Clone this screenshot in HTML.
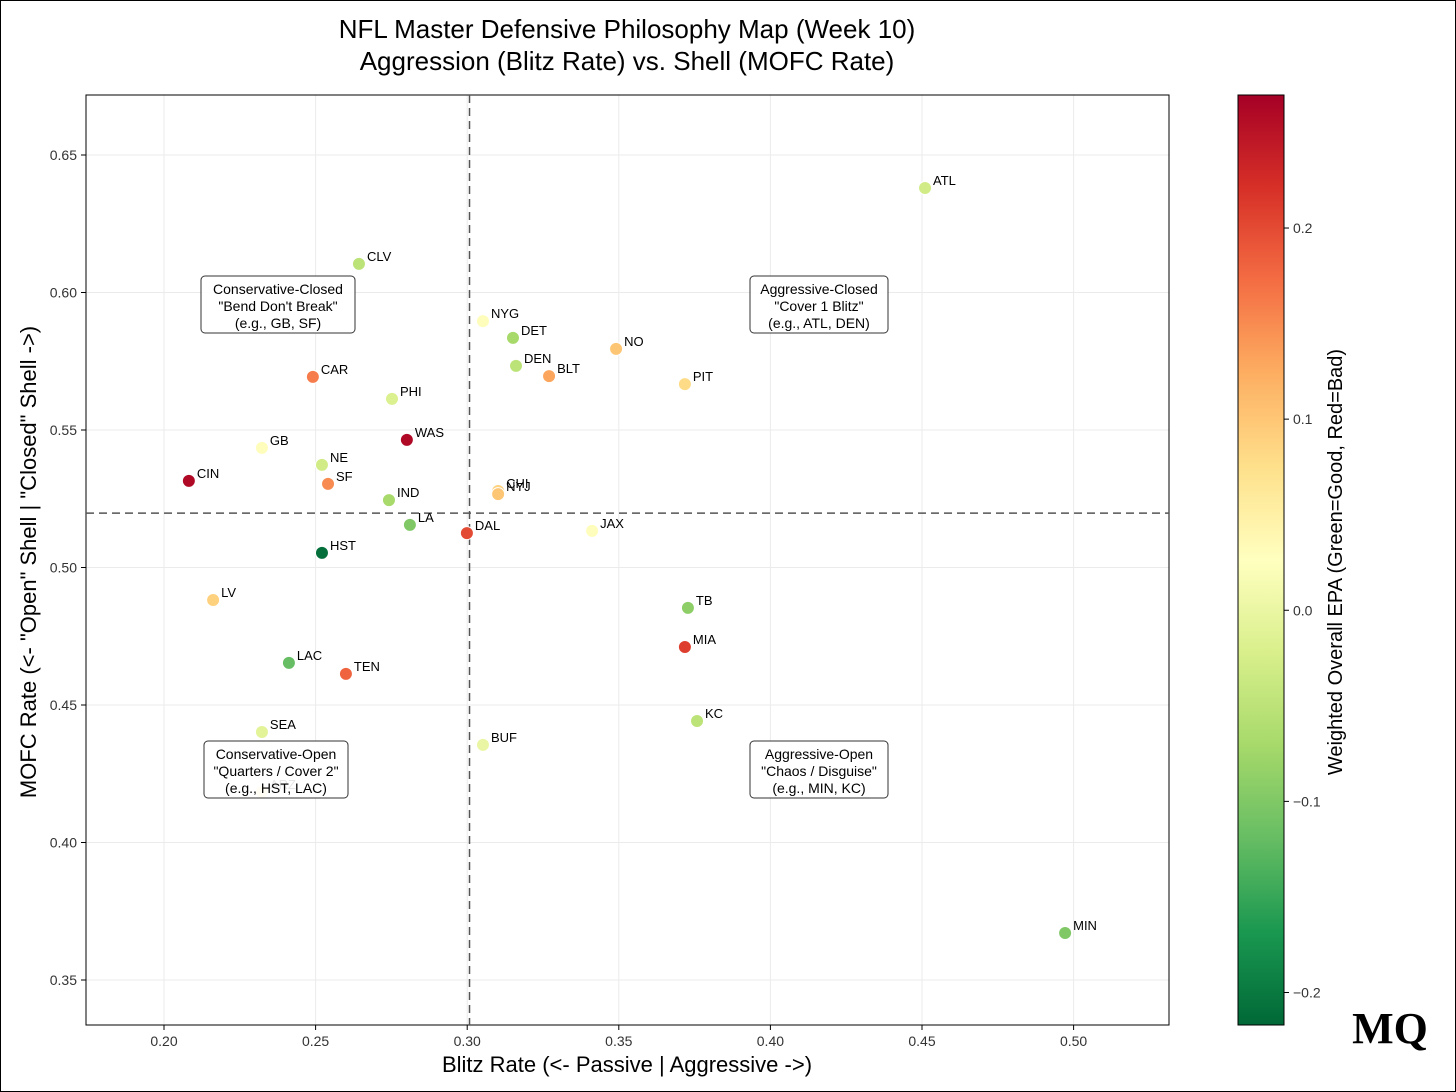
<!DOCTYPE html>
<html><head><meta charset="utf-8"><style>
body{margin:0;background:#fff;}
svg{display:block;font-family:"Liberation Sans",sans-serif;}
</style></head><body>
<svg id="chart" width="1456" height="1092" viewBox="0 0 1456 1092">
<rect x="0.5" y="0.5" width="1455" height="1091" fill="#fff" stroke="#000"/>
<text x="627" y="38" font-size="26" text-anchor="middle">NFL Master Defensive Philosophy Map (Week 10)</text>
<text x="627" y="70" font-size="26" text-anchor="middle">Aggression (Blitz Rate) vs. Shell (MOFC Rate)</text>
<g id="grid"></g><g id="axes"></g><g id="marks"></g><g id="labels"></g><g id="notes"></g><g id="cbar"></g>
<text x="627" y="1072" font-size="22" text-anchor="middle">Blitz Rate (&lt;- Passive | Aggressive -&gt;)</text>
<text transform="translate(36,562) rotate(-90)" font-size="22" text-anchor="middle">MOFC Rate (&lt;- "Open" Shell | "Closed" Shell -&gt;)</text>
<text transform="translate(1342,562) rotate(-90)" font-size="20" text-anchor="middle">Weighted Overall EPA (Green=Good, Red=Bad)</text>
<text x="1390" y="1043" font-size="44" font-weight="bold" font-family="Liberation Serif,serif" text-anchor="middle">MQ</text>
</svg>
<script>
const teams=["ATL","CLV","NYG","DET","NO","DEN","BLT","CAR","PIT","PHI","WAS","GB","NE","CIN","SF","CHI","NYJ","IND","LA","DAL","JAX","HST","LV","TB","MIA","LAC","TEN","KC","SEA","BUF","ARZ","MIN"];
const blitz=[0.451,0.2643,0.3052,0.3151,0.3491,0.3161,0.327,0.2491,0.3718,0.2752,0.2801,0.2323,0.2521,0.2082,0.2541,0.3102,0.3102,0.2742,0.2811,0.2999,0.3412,0.2521,0.2162,0.3728,0.3718,0.2412,0.26,0.3758,0.2323,0.3052,0.2323,0.4972];
const mofc=[0.638,0.6104,0.5896,0.5835,0.5795,0.5733,0.5696,0.5693,0.5667,0.5613,0.5464,0.5435,0.5373,0.5315,0.5304,0.5278,0.5267,0.5245,0.5155,0.5125,0.5133,0.5053,0.4882,0.4853,0.4711,0.4653,0.4613,0.4442,0.4402,0.4355,0.4184,0.3671];
const epa=[-0.03,-0.05,0.03,-0.07,0.1,-0.05,0.13,0.16,0.08,-0.02,0.26,0.03,-0.03,0.26,0.15,0.09,0.1,-0.07,-0.1,0.2,0.03,-0.21,0.09,-0.09,0.21,-0.12,0.18,-0.05,-0.01,0.0,0.07,-0.1];
const xTicks=[0.20,0.25,0.30,0.35,0.40,0.45,0.50];
const yTicks=[0.35,0.40,0.45,0.50,0.55,0.60,0.65];
const cTicks=[-0.2,-0.1,0.0,0.1,0.2];
const cMin=-0.217,cMax=0.2696;
const L=86,R=1169,T=95,B=1025;
const X=v=>164+(v-0.2)*3032, Y=v=>155+(0.65-v)*2750;
const C=v=>T+(cMax-v)/(cMax-cMin)*(B-T);
const ns="http://www.w3.org/2000/svg";
function mk(p,t,a){const e=document.createElementNS(ns,t);for(const k in a)e.setAttribute(k,a[k]);p.appendChild(e);return e;}
const stops=[[0,[0,104,55]],[0.1,[26,152,80]],[0.2,[102,189,99]],[0.3,[166,217,106]],[0.4,[217,239,139]],[0.5,[255,255,191]],[0.6,[254,224,139]],[0.7,[253,174,97]],[0.8,[244,109,67]],[0.9,[215,48,39]],[1,[165,0,38]]];
function cmap(v){let t=(v-cMin)/(cMax-cMin);t=Math.max(0,Math.min(1,t));let i=Math.min(9,Math.floor(t*10));const f=t*10-i;const a=stops[i][1],b=stops[i+1][1];return`rgb(${a.map((c,k)=>Math.round(c+(b[k]-c)*f)).join(",")})`;}
const g=document.getElementById("grid"),ax=document.getElementById("axes"),mg=document.getElementById("marks"),lg=document.getElementById("labels"),ng=document.getElementById("notes"),cb=document.getElementById("cbar");
xTicks.forEach(v=>{const x=X(v);
const l=mk(g,"line",{x1:x,x2:x,y1:T,y2:B,stroke:"#ebebeb"});
mk(ax,"line",{x1:x,x2:x,y1:B,y2:B+5,stroke:"#000"});
const t=mk(ax,"text",{x:x,y:B+21,"font-size":14,"text-anchor":"middle",fill:"#333"});t.textContent=v.toFixed(2);
});
yTicks.forEach(v=>{const y=Y(v);
const l=mk(g,"line",{x1:L,x2:R,y1:y,y2:y,stroke:"#ebebeb"});
mk(ax,"line",{x1:L-5,x2:L,y1:y,y2:y,stroke:"#000"});
const t=mk(ax,"text",{x:L-9,y:y+5,"font-size":14,"text-anchor":"end",fill:"#333"});t.textContent=v.toFixed(2);
});
const fr=mk(ax,"rect",{x:L,y:T,width:R-L,height:B-T,fill:"none",stroke:"#000"});
const mx=blitz.reduce((a,b)=>a+b)/blitz.length,my=mofc.reduce((a,b)=>a+b)/mofc.length;
const vl=mk(mg,"line",{x1:X(mx),x2:X(mx),y1:T,y2:B,stroke:"#555","stroke-width":1.5,"stroke-dasharray":"8,5"});
const hl=mk(mg,"line",{x1:L,x2:R,y1:Y(my),y2:Y(my),stroke:"#555","stroke-width":1.5,"stroke-dasharray":"8,5"});
teams.forEach((tm,i)=>{const x=X(blitz[i]),y=Y(mofc[i]);
const c=mk(mg,"circle",{cx:x,cy:y,r:6.5,fill:cmap(epa[i]),stroke:"#fff","stroke-width":1});


const t=mk(lg,"text",{x:x+8,y:y-3,"font-size":13});t.textContent=tm;

});
const notes=[[278,304,["Conservative-Closed","\"Bend Don't Break\"","(e.g., GB, SF)"]],[819,304,["Aggressive-Closed","\"Cover 1 Blitz\"","(e.g., ATL, DEN)"]],[276,769,["Conservative-Open","\"Quarters / Cover 2\"","(e.g., HST, LAC)"]],[819,769,["Aggressive-Open","\"Chaos / Disguise\"","(e.g., MIN, KC)"]]];
notes.forEach(([cx,cy,lines],k)=>{const w=k==2?144:k==0?154:138;
const r=mk(ng,"rect",{x:cx-w/2,y:cy-28,width:w,height:57,rx:4,fill:"#fff","fill-opacity":0.9,stroke:"#333"});

lines.forEach((s,j)=>{const t=mk(ng,"text",{x:cx,y:cy-10+j*17,"font-size":14,"text-anchor":"middle"});t.textContent=s;});});
const defs=mk(cb,"defs",{});const lgd=mk(defs,"linearGradient",{id:"cg",x1:0,y1:1,x2:0,y2:0});
for(let k=0;k<=40;k++){const v=cMin+(cMax-cMin)*k/40;mk(lgd,"stop",{offset:k/40,"stop-color":cmap(v)});}
const cr=mk(cb,"rect",{x:1238,y:T,width:46,height:B-T,fill:"url(#cg)",stroke:"#000"});
cTicks.forEach(v=>{const y=C(v);mk(cb,"line",{x1:1284,x2:1289,y1:y,y2:y,stroke:"#000"});
const t=mk(cb,"text",{x:1293,y:y+5,"font-size":14,fill:"#333"});t.textContent=(v<0?"\u2212":"")+Math.abs(v).toFixed(1);
});
</script>
</body></html>
